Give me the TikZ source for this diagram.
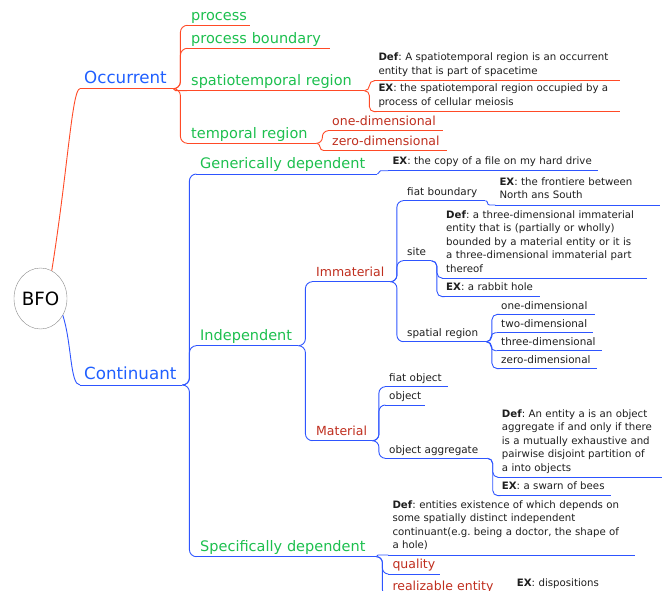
\documentclass[tikz,border=0pt]{standalone}
\usepackage{fontspec}
\setmainfont{DejaVu Sans}
\frenchspacing
\usetikzlibrary{shapes.geometric}
\definecolor{branchred}{HTML}{FF4A26}
\definecolor{branchblue}{HTML}{2E55FF}
\definecolor{topicblue}{HTML}{1F5FFF}
\definecolor{topicgreen}{HTML}{1CBF4E}
\definecolor{topicred}{HTML}{BF2E1E}
\definecolor{notegray}{HTML}{1E1E1E}
\tikzset{
	topic/.style={
		anchor=south west,
		inner xsep=4pt, inner ysep=0pt,
		text width=#1pt,
		align=left,
		execute at begin node={\hyphenpenalty=10000\exhyphenpenalty=10000},
		execute at end node={\rule[-5pt]{0pt}{5pt}}
	},
	main-topic/.style={topic=#1, text=topicblue, font=\fontsize{16.7}{20}\selectfont},
	sub-topic/.style={topic=#1, text=topicgreen, font=\fontsize{14.5}{17}\selectfont},
	detail-topic/.style={topic=#1, text=topicred, font=\fontsize{12.5}{15}\selectfont},
	item-topic/.style={topic=#1, text=notegray, font=\fontsize{10.4}{13}\selectfont},
	note-topic/.style={
		topic=#1, text=notegray,
		font=\fontsize{10.2}{13.5}\selectfont,
		execute at end node={\rule[-6pt]{0pt}{6pt}}
	},
	root-node/.style={
		ellipse,
		draw=black!45, fill=white,
		minimum width=51pt, minimum height=61pt,
		inner sep=0pt,
		font=\fontsize{18.3}{22}\selectfont
	},
	red-edge/.style={draw=branchred, line width=0.9pt},
	blue-edge/.style={draw=branchblue, line width=0.9pt},
}
\begin{document}
\begin{tikzpicture}[x=1pt, y=-1pt]
	\useasboundingbox (0,0) rectangle (666,591);
	\clip (0,0) rectangle (666,591);
	\node[root-node] (bfo) at (40.5,298.5) {BFO};
	% occurrent
	\node[main-topic=85] (occ) at (80,88.7) {Occurrent};
	\node[sub-topic=55] (proc) at (187,25.3) {process};
	\node[sub-topic=135] (pbound) at (187,48.3) {process boundary};
	\node[sub-topic=169] (streg) at (187,90.7) {spatiotemporal region};
	\node[sub-topic=121] (treg) at (187,143.3) {temporal region};
	\node[detail-topic=107] (tone) at (328,130.7) {one-dimensional};
	\node[detail-topic=111] (tzero) at (328,150.5) {zero-dimensional};
	\node[note-topic=237.7] (stdef) at (374.3,80.7) {\textbf{Def}: A spatiotemporal region is an occurrent\\entity that is part of spacetime};
	\node[note-topic=237.7] (stex) at (374.3,111.7) {\textbf{EX}: the spatiotemporal region occupied by a\\process of cellular meiosis};
	% continuant
	\node[main-topic=94] (cont) at (80,385) {Continuant};
	\node[sub-topic=173] (gdep) at (196,174) {Generically dependent};
	\node[sub-topic=94] (indep) at (196,345.7) {Independent};
	\node[sub-topic=172] (sdep) at (196,556.7) {Specifically dependent};
	\node[note-topic=201.7] (gdex) at (388.3,170.7) {\textbf{EX}: the copy of a file on my hard drive};
	\node[detail-topic=70] (immat) at (312,281.7) {Immaterial};
	\node[detail-topic=52] (mater) at (312,440.7) {Material};
	\node[item-topic=74] (fiatb) at (403,200.7) {fiat boundary};
	\node[item-topic=20] (site) at (403,260.7) {site};
	\node[item-topic=75] (spreg) at (403,341.7) {spatial region};
	\node[note-topic=156.7] (fbex) at (495.3,205) {\textbf{EX}: the frontiere between\\North ans South};
	\node[note-topic=197] (sdef) at (442,278.3) {\textbf{Def}: a three-dimensional immaterial\\entity that is (partially or wholly)\\bounded by a material entity or it is\\a three-dimensional immaterial part\\thereof};
	\node[note-topic=90] (sex) at (442,296.7) {\textbf{EX}: a rabbit hole};
	\node[item-topic=90] (sp1) at (497,314.3) {one-dimensional};
	\node[item-topic=88] (sp2) at (497,332.7) {two-dimensional};
	\node[item-topic=97] (sp3) at (497,350.7) {three-dimensional};
	\node[item-topic=92] (sp0) at (497,368.7) {zero-dimensional};
	\node[item-topic=55] (fobj) at (385,386.7) {fiat object};
	\node[item-topic=32] (obj) at (385,405) {object};
	\node[item-topic=94] (oagg) at (385,458.3) {object aggregate};
	\node[note-topic=156.3] (odef) at (497.7,477.3) {\textbf{Def}: An entity a is an object\\aggregate if and only if there\\is a mutually exhaustive and\\pairwise disjoint partition of\\a into objects};
	\node[note-topic=105.3] (oex) at (497.7,495.7) {\textbf{EX}: a swarn of bees};
	\node[note-topic=238] (sddef) at (388.3,555) {\textbf{Def}: entities existence of which depends on\\some spatially distinct independent\\continuant(e.g. being a doctor, the shape of\\a hole)};
	\node[detail-topic=43.7] (qual) at (388.3,574) {quality};
	\node[detail-topic=103.7] (real) at (388.3,595.5) {realizable entity};
	\node[note-topic=99] (realex) at (512.7,593) {\textbf{EX}: dispositions};
	% underlines
	\foreach \n in {occ,proc,pbound,streg,treg,tone,tzero,stdef,stex}
		\draw[red-edge] (\n.south west) -- (\n.south east);
	\foreach \n in {cont,gdep,indep,sdep,gdex,immat,mater,fiatb,site,spreg,fbex,sdef,sex,sp1,sp2,sp3,sp0,fobj,obj,oagg,odef,oex,sddef,qual,real,realex}
		\draw[blue-edge] (\n.south west) -- (\n.south east);
	% branches
	\draw[red-edge] (bfo.68) .. controls +(16,-100) and +(-8,0) .. (occ.south west);
	\draw[blue-edge] (bfo.-37) .. controls +(9,28) and +(-10,0) .. (cont.south west);
	\foreach \a/\b/\rad in {occ/proc/7, occ/pbound/7, occ/streg/1, occ/treg/7, treg/tone/6, treg/tzero/3.6, streg/stdef/5, streg/stex/5}
		\draw[red-edge, rounded corners=\rad pt] (\a.south east) -- ++(\rad,0) |- (\b.south west);
	\foreach \a/\b/\rad in {cont/gdep/7, cont/indep/7, cont/sdep/7, gdep/gdex/1.6, indep/immat/7, indep/mater/7,
		immat/fiatb/6.5, immat/site/6.5, immat/spreg/6.5, fiatb/fbex/2.1, site/sdef/5.5, site/sex/5.5,
		spreg/sp1/5.5, spreg/sp2/4.5, spreg/sp3/4.5, spreg/sp0/5.5, mater/fobj/6.5, mater/obj/6.5, mater/oagg/6.5,
		oagg/odef/5.3, oagg/oex/5.3, sdep/sddef/0.8, sdep/qual/6, sdep/real/6, real/realex/1.2}
		\draw[blue-edge, rounded corners=\rad pt] (\a.south east) -- ++(\rad,0) |- (\b.south west);
\end{tikzpicture}
\end{document}
